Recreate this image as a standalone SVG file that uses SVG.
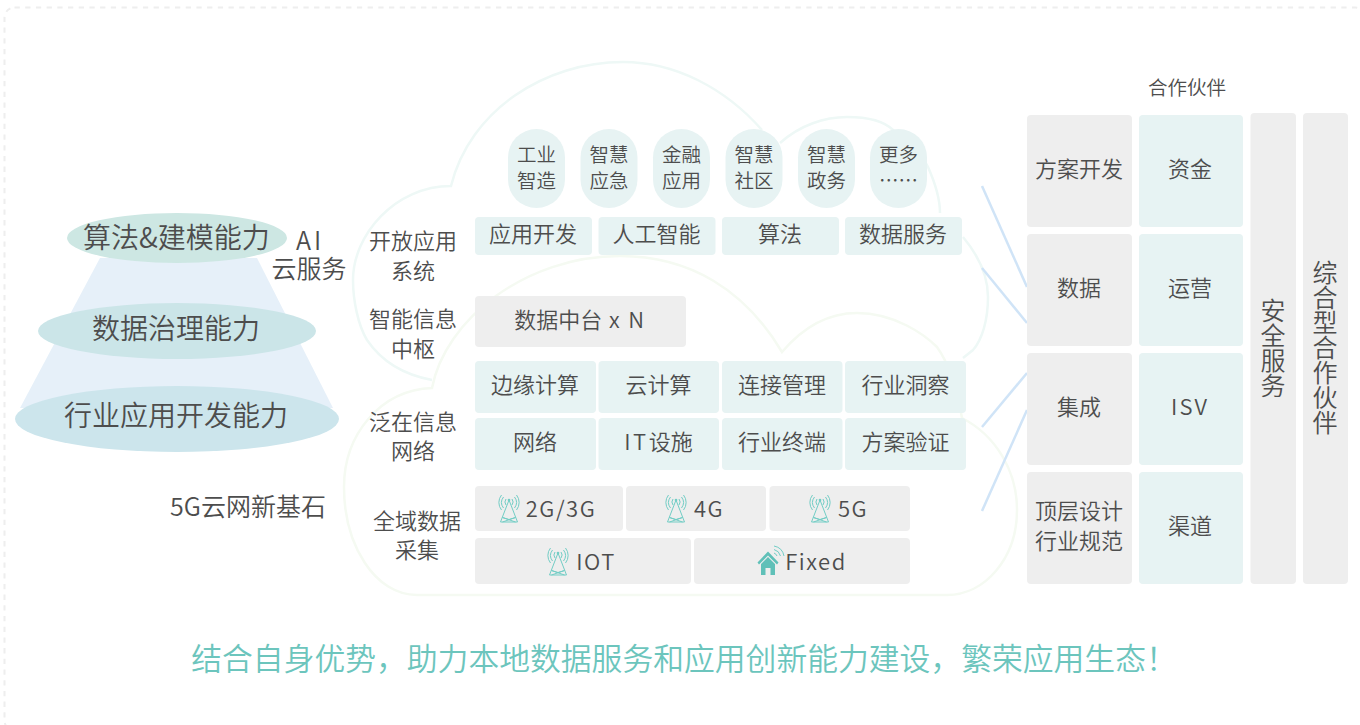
<svg xmlns="http://www.w3.org/2000/svg" width="1360" height="725" viewBox="0 0 1360 725">
<style>
text{font-family:"Noto Sans CJK SC","Noto Sans",sans-serif;font-weight:350;fill:#4d4d4d;text-anchor:middle}
.t{fill:#e7f3f3}.g{fill:#eeeeee}
.s22{font-size:22px}.s20{font-size:19.500px}.s28{font-size:28px}.s24{font-size:25px}
.v{font-size:25px;writing-mode:vertical-rl}
.cl1{fill:none;stroke:#eef8f6;stroke-width:2.500}
.cl2{fill:none;stroke:#f5faf2;stroke-width:2.500}
.ln{fill:none;stroke:#d0e4f7;stroke-width:2.500}
.ic{fill:none;stroke:#72cdc5;stroke-width:1}
</style>
<defs>
<g id="tower">
<path class="ic" d="M0 0L-8.500 22H8.500ZM-6.500 17.500L6.500 22M6.500 17.500L-6.500 22M-6.500 17.500L0 19.500L6.500 17.500"/>
<path class="ic" d="M-3 -1A5 5 0 0 0 -3 5M3 -1A5 5 0 0 1 3 5M-5.500 -3A9 9 0 0 0 -5.500 8M5.500 -3A9 9 0 0 1 5.500 8M-7.500 -5A12 12 0 0 0 -7.500 10M7.500 -5A12 12 0 0 1 7.500 10"/>
<circle cx="0" cy="0" r="1.300" fill="#72cdc5"/>
</g>
</defs>
<rect id="frame" x="4.500" y="7.500" width="1361" height="723" rx="10" fill="none" stroke="#eeeeee" stroke-width="2" stroke-dasharray="5.300 5.400"/>
<g id="clouds">
<path class="cl1" d="M432 380C405 375 382 362 367 340C358 325 353 300 353 280C353 235 395 186 451 186C470 110 545 62 623 62C675 62 725 88 762 130M780 143C800 125 825 117 847 117C870 117 885 122 893 130C912 145 925 160 928 167C936 185 940 200 940 213M963 237C978 255 988 275 988 297C988 320 982 340 973 350L963 358"/>
<path class="cl2" d="M432 388C445 320 525 256 620 256C690 256 745 290 782 352C805 325 830 313 857 313C895 313 925 335 937 347C950 365 958 395 962 418C995 435 1017 470 1017 510C1017 558 985 595 947 595H417C375 595 344 545 344 487C344 435 380 390 432 388Z"/>
</g>
<g id="connectors">
<path class="ln" d="M982 186L1027 287"/>
<path class="ln" d="M982 268L1027 323"/>
<path class="ln" d="M982 427L1027 373"/>
<path class="ln" d="M982 511L1027 410"/>
</g>
<g id="pyramid">
<path d="M100 258H257L333 408H20Z" fill="#e6f0f9"/>
<g id="n-algo"><ellipse cx="177" cy="238" rx="110" ry="25" fill="#cde7e3"/><text class="s28" x="176.500" y="248">算法&amp;建模能力</text></g>
<g id="n-data"><ellipse cx="177" cy="331" rx="139" ry="28" fill="#cbe5e8"/><text class="s28" x="176" y="339">数据治理能力</text></g>
<g id="n-ind"><ellipse cx="177" cy="419" rx="162" ry="33" fill="#cce5ec"/><text class="s28" x="176" y="426">行业应用开发能力</text></g>
</g>
<g id="n-ai"><text class="s24" x="310" y="250" letter-spacing="3">AI</text><text class="s24" x="309" y="278">云服务</text></g>
<text id="n-5g" class="s24" x="248" y="516">5G云网新基石</text>
<g id="labels">
<text class="s22" x="413" y="249">开放应用</text><text class="s22" x="413" y="279">系统</text>
<text class="s22" x="413" y="327">智能信息</text><text class="s22" x="413" y="357">中枢</text>
<text class="s22" x="413" y="430">泛在信息</text><text class="s22" x="413" y="459">网络</text>
<text class="s22" x="417" y="529">全域数据</text><text class="s22" x="417" y="558">采集</text>
</g>
<g id="pills">
<g id="p1"><rect class="t" x="508" y="129" width="57" height="79" rx="28.500"/><text class="s20" x="536.500" y="162">工业</text><text class="s20" x="536.500" y="188">智造</text></g>
<g id="p2"><rect class="t" x="580.500" y="129" width="57" height="79" rx="28.500"/><text class="s20" x="609" y="162">智慧</text><text class="s20" x="609" y="188">应急</text></g>
<g id="p3"><rect class="t" x="653" y="129" width="57" height="79" rx="28.500"/><text class="s20" x="681.500" y="162">金融</text><text class="s20" x="681.500" y="188">应用</text></g>
<g id="p4"><rect class="t" x="725.500" y="129" width="57" height="79" rx="28.500"/><text class="s20" x="754" y="162">智慧</text><text class="s20" x="754" y="188">社区</text></g>
<g id="p5"><rect class="t" x="798" y="129" width="57" height="79" rx="28.500"/><text class="s20" x="826.500" y="162">智慧</text><text class="s20" x="826.500" y="188">政务</text></g>
<g id="p6"><rect class="t" x="870" y="129" width="57" height="79" rx="28.500"/><text class="s20" x="898.500" y="162">更多</text><text class="s20" x="898.500" y="188">……</text></g>
</g>
<g id="apps">
<g id="a1"><rect class="t" x="475" y="217" width="117" height="38" rx="4"/><text class="s22" x="533" y="242">应用开发</text></g>
<g id="a2"><rect class="t" x="598.500" y="217" width="117" height="38" rx="4"/><text class="s22" x="656.500" y="242">人工智能</text></g>
<g id="a3"><rect class="t" x="722" y="217" width="117" height="38" rx="4"/><text class="s22" x="780" y="242">算法</text></g>
<g id="a4"><rect class="t" x="845" y="217" width="117" height="38" rx="4"/><text class="s22" x="903" y="242">数据服务</text></g>
</g>
<g id="n-mid"><rect class="g" x="475" y="296" width="211" height="51" rx="4"/><text class="s22" x="580" y="328">数据中台<tspan letter-spacing="1.800"> x N</tspan></text></g>
<g id="net">
<g id="b1"><rect class="t" x="475" y="361" width="121" height="52" rx="4"/><text class="s22" x="535" y="393">边缘计算</text></g>
<g id="b2"><rect class="t" x="598.500" y="361" width="120.500" height="52" rx="4"/><text class="s22" x="658.500" y="393">云计算</text></g>
<g id="b3"><rect class="t" x="722" y="361" width="120.500" height="52" rx="4"/><text class="s22" x="782" y="393">连接管理</text></g>
<g id="b4"><rect class="t" x="845" y="361" width="121" height="52" rx="4"/><text class="s22" x="905.500" y="393">行业洞察</text></g>
<g id="b5"><rect class="t" x="475" y="418" width="121" height="52" rx="4"/><text class="s22" x="535" y="450">网络</text></g>
<g id="b6"><rect class="t" x="598.500" y="418" width="120.500" height="52" rx="4"/><text class="s22" x="658.500" y="450"><tspan letter-spacing="2.500">IT</tspan>设施</text></g>
<g id="b7"><rect class="t" x="722" y="418" width="120.500" height="52" rx="4"/><text class="s22" x="782" y="450">行业终端</text></g>
<g id="b8"><rect class="t" x="845" y="418" width="121" height="52" rx="4"/><text class="s22" x="905.500" y="450">方案验证</text></g>
</g>
<g id="access">
<g id="c1"><rect class="g" x="475" y="486" width="148" height="45" rx="4"/><use href="#tower" x="509" y="500"/><text class="s22" x="561" y="517" letter-spacing="1.500">2G/3G</text></g>
<g id="c2"><rect class="g" x="626" y="486" width="140" height="45" rx="4"/><use href="#tower" x="676" y="500"/><text class="s22" x="709" y="517" letter-spacing="1.500">4G</text></g>
<g id="c3"><rect class="g" x="769.500" y="486" width="140.500" height="45" rx="4"/><use href="#tower" x="820" y="500"/><text class="s22" x="853" y="517" letter-spacing="1.500">5G</text></g>
<g id="c4"><rect class="g" x="475" y="538" width="216" height="46" rx="4"/><use href="#tower" x="558" y="553"/><text class="s22" x="596" y="570" letter-spacing="1.500">IOT</text></g>
<g id="c5"><rect class="g" x="694" y="538" width="216" height="46" rx="4"/>
<path d="M768 551.500L757.500 562.500L759 564.500L768 555.500L777 564.500L778.500 562.500Z" fill="#5fc0b8"/>
<path d="M761 564L768 557L775 564V575H770.500V568H765.500V575H761Z" fill="#5fc0b8"/>
<path d="M774 553A5 5 0 0 1 777 556M774 549.500A9 9 0 0 1 780.500 556M774 546A12.500 12.500 0 0 1 784 556" fill="none" stroke="#72cdc5" stroke-width="1"/>
<text class="s22" x="816" y="570" letter-spacing="1.500">Fixed</text></g>
</g>
<text id="n-pt" class="s20" x="1187" y="95">合作伙伴</text>
<g id="right">
<g id="r1"><rect class="g" x="1027" y="115" width="105" height="112" rx="4"/><text class="s22" x="1079" y="177">方案开发</text></g>
<g id="r2"><rect class="g" x="1027" y="234" width="105" height="112" rx="4"/><text class="s22" x="1079" y="296">数据</text></g>
<g id="r3"><rect class="g" x="1027" y="353" width="105" height="112" rx="4"/><text class="s22" x="1079" y="415">集成</text></g>
<g id="r4"><rect class="g" x="1027" y="472" width="105" height="112" rx="4"/><text class="s22" x="1079" y="519">顶层设计</text><text class="s22" x="1079" y="549">行业规范</text></g>
<g id="r5"><rect class="t" x="1139" y="115" width="104" height="112" rx="4"/><text class="s22" x="1190" y="177">资金</text></g>
<g id="r6"><rect class="t" x="1139" y="234" width="104" height="112" rx="4"/><text class="s22" x="1190" y="296">运营</text></g>
<g id="r7"><rect class="t" x="1139" y="353" width="104" height="112" rx="4"/><text class="s22" x="1190" y="415" letter-spacing="2">ISV</text></g>
<g id="r8"><rect class="t" x="1139" y="472" width="104" height="112" rx="4"/><text class="s22" x="1190" y="534">渠道</text></g>
<g id="r9"><rect class="g" x="1250.500" y="113" width="45.500" height="471" rx="4"/><text class="v" x="1273" y="348">安全服务</text></g>
<g id="r10"><rect class="g" x="1303" y="113" width="45" height="471" rx="4"/><text class="v" x="1325" y="347">综合型合作伙伴</text></g>
</g>
<text id="slogan" x="684" y="670" font-size="30.800" style="fill:#6cc5bd">结合自身优势，助力本地数据服务和应用创新能力建设，繁荣应用生态！</text>
</svg>
